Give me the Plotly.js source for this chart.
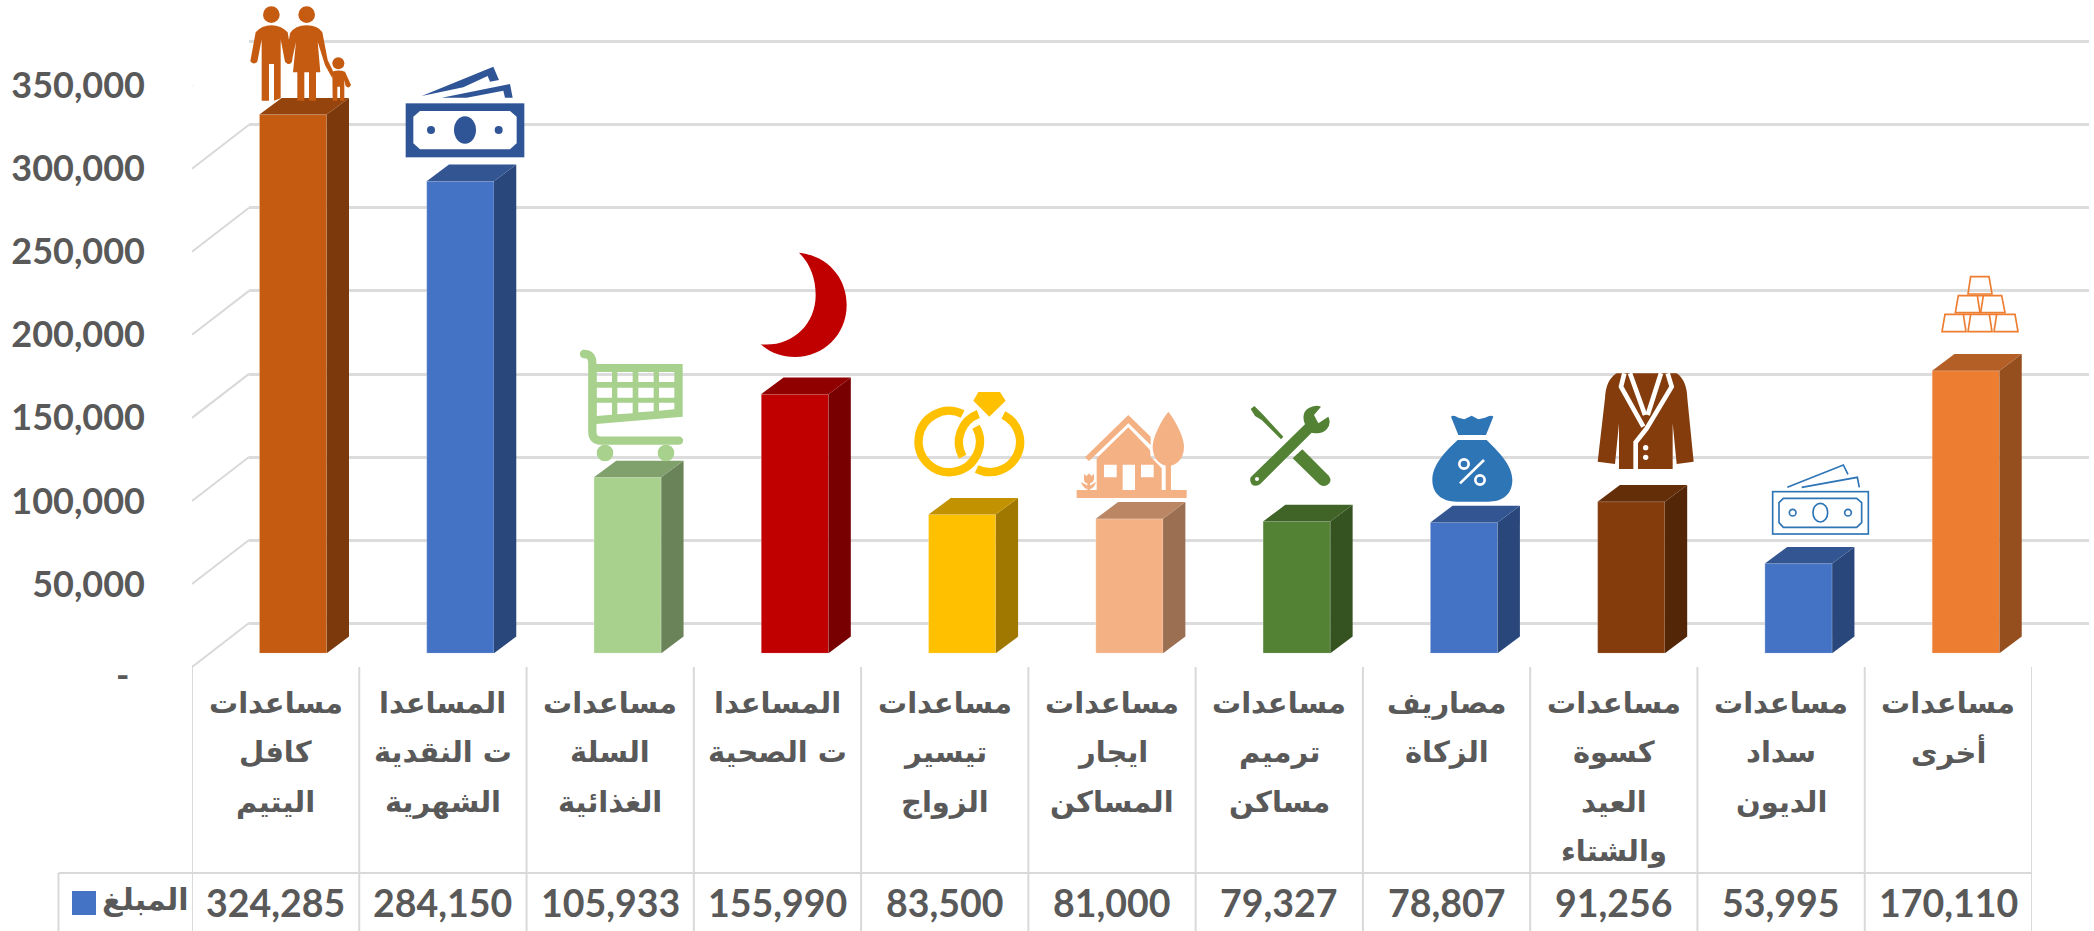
<!DOCTYPE html>
<html>
<head>
<meta charset="utf-8">
<script src="https://cdn.plot.ly/plotly-3.0.1.min.js"></script>
<style>html,body{margin:0;padding:0;background:#fff}</style>
</head>
<body>
<div id="chart" style="width:2094px;height:931px"></div>
<script>
const categories = [
  'مساعدات<br>كافل<br>اليتيم',
  'المساعدا<br>ت النقدية<br>الشهرية',
  'مساعدات<br>السلة<br>الغذائية',
  'المساعدا<br>ت الصحية',
  'مساعدات<br>تيسير<br>الزواج',
  'مساعدات<br>ايجار<br>المساكن',
  'مساعدات<br>ترميم<br>مساكن',
  'مصاريف<br>الزكاة',
  'مساعدات<br>كسوة<br>العيد<br>والشتاء',
  'مساعدات<br>سداد<br>الديون',
  'مساعدات<br>أخرى'
];
const values = [324285, 284150, 105933, 155990, 83500, 81000, 79327, 78807, 91256, 53995, 170110];
const seriesName = 'المبلغ';
const yTicks = [0, 50000, 100000, 150000, 200000, 250000, 300000, 350000];
const yTickText = ['-', '50,000', '100,000', '150,000', '200,000', '250,000', '300,000', '350,000'];
const frontColors = ['#C55A11','#4472C4','#A9D18E','#C00000','#FFC000','#F4B183','#548235','#4472C4','#843C0C','#4472C4','#ED7D31'];
const topColors   = ['#96440D','#335693','#80A06C','#910000','#C29200','#BA8664','#406328','#335693','#642E09','#335693','#B45F25'];
const sideColors  = ['#7C390B','#2A477B','#6A8359','#790000','#A07800','#9A6F52','#355221','#2A477B','#532608','#2A477B','#954F1F'];

const W = 2094, H = 931;
const fx = p => p / W, fy = p => 1 - p / H;
const GRID = '#D9D9D9', TXT = '#595959';
const ARABIC = 'DejaVu Sans', LATIN = 'Lato';

// bar geometry in axis units
const barLeft = 0.403, barW = 0.4023, depthX = 0.1333, depthV = 10054;
// wall offset in axis units of the front plane
const wallX = 0.3408, wallV = 26474;
// the wall axis runs a little past its ends so that the end gridlines stay drawn
const wallPad = 2000, wallPadPx = wallPad / 50000 * 83.2;

const band = categories.map((_, i) => i);
const traces = [];

// keeps the wall subplot alive; runs along the floor at the back
traces.push({type:'scatter', mode:'lines', x:[0,11], y:[0,0], xaxis:'x', yaxis:'y',
  line:{color:'rgba(0,0,0,0)',width:0}, hoverinfo:'skip', showlegend:false});

// diagonals from front plane to wall
yTicks.forEach(v => traces.push({type:'scatter', mode:'lines', xaxis:'x2', yaxis:'y2',
  x:[0, wallX], y:[v, v + wallV], cliponaxis:false,
  line:{color:GRID,width:2}, hoverinfo:'skip', showlegend:false}));

// front faces
traces.push({type:'bar', xaxis:'x2', yaxis:'y3', x:band.map(i => i + barLeft + barW/2), y:values,
  width:barW, marker:{color:frontColors, line:{width:1, color:'rgba(255,255,255,0.3)'}}, hoverinfo:'y', showlegend:false});

// side and top faces
values.forEach((v,i) => {
  const l = i + barLeft, r = l + barW;
  traces.push({type:'scatter', mode:'lines', xaxis:'x2', yaxis:'y3',
    x:[r, r+depthX, r+depthX, r, r], y:[0, depthV, v+depthV, v, 0], fill:'toself',
    fillcolor:sideColors[i], line:{width:0}, hoverinfo:'skip', showlegend:false});
  traces.push({type:'scatter', mode:'lines', xaxis:'x2', yaxis:'y3',
    x:[l, l+depthX, r+depthX, r, l], y:[v, v+depthV, v+depthV, v, v], fill:'toself',
    fillcolor:topColors[i], line:{width:0}, hoverinfo:'skip', showlegend:false});
});

// table rules
const vline = (x, y0, y1) => ({type:'line', xref:'x2', yref:'paper', x0:x, x1:x, y0:fy(y0), y1:fy(y1), line:{color:GRID,width:2}, layer:'below'});
const shapes = [];
for (let i = 0; i <= categories.length; i++) shapes.push(vline(i, 667, 931));
shapes.push({type:'line', xref:'paper', yref:'paper', x0:fx(58.5), x1:fx(58.5), y0:fy(873), y1:fy(931), line:{color:GRID,width:2}, layer:'below'});
shapes.push({type:'line', xref:'paper', yref:'paper', x0:fx(58.5), x1:fx(2032), y0:fy(873), y1:fy(873), line:{color:GRID,width:2}, layer:'below'});
shapes.push({type:'rect', xref:'paper', yref:'paper', x0:fx(72), x1:fx(96), y0:fy(891), y1:fy(915), fillcolor:'#4472C4', line:{width:0}});

// table values
const annotations = values.map((v,i) => ({xref:'x2', yref:'paper', x:i+0.5, y:fy(902), showarrow:false,
  xanchor:'center', yanchor:'middle', text:v.toLocaleString('en-US'),
  font:{family:LATIN, size:37.5, color:TXT, weight:700}}));
annotations.push({xref:'paper', yref:'paper', x:fx(145), y:fy(899), showarrow:false, xanchor:'center', yanchor:'middle',
  text:seriesName, font:{family:ARABIC, size:30, color:TXT, weight:700}});
// category labels, one annotation per line so the leading can follow the reference
categories.forEach((c,i) => c.split('<br>').forEach((line,k) => annotations.push({
  xref:'x2', yref:'paper', x:i+0.5, y:fy(703 + 49.3*k), showarrow:false, xanchor:'center', yanchor:'middle',
  text:line, font:{family:ARABIC, size:29, color:TXT, weight:700}})));
// the zero label sits low and to the left of the other tick labels
annotations.push({xref:'paper', yref:'paper', x:fx(122), y:fy(674), showarrow:false, xanchor:'center', yanchor:'middle',
  text:yTickText[0], font:{family:LATIN, size:36, color:TXT, weight:700}});

// icons, drawn at three times their size in the crop box they sit in
function icon(x0, y0, w, h, inner) {
  const svg = `<svg xmlns="http://www.w3.org/2000/svg" width="${w*3}" height="${h*3}" viewBox="0 0 ${w*3} ${h*3}">${inner}</svg>`;
  return {source:'data:image/svg+xml;charset=utf-8,' + encodeURIComponent(svg), xref:'paper', yref:'paper',
    x:fx(x0), y:fy(y0), sizex:w/W, sizey:h/H, xanchor:'left', yanchor:'top', sizing:'stretch', layer:'above'};
}
const family = `<g fill="#C55A11"><circle cx="79" cy="44" r="25"/><circle cx="185" cy="44" r="25"/><circle cx="280" cy="190" r="18"/>
<path d="M32,97 Q50,76 79,76 Q108,76 128,97 L142,180 Q140,194 128,192 L120,185 L107,118 L107,295 L87,302 L87,192 L72,192 L72,302 L50,302 L50,118 L37,185 Q25,196 16,184 Z"/>
<path d="M135,100 Q150,76 185,76 Q218,76 232,97 L248,180 L265,215 L262,235 L240,195 L218,125 L226,217 L213,217 L213,302 L192,302 L192,217 L178,217 L178,302 L157,302 L157,217 L144,217 L153,125 L140,185 Q130,195 122,185 Z"/>
<path d="M262,215 Q280,208 300,215 L318,255 Q312,268 302,258 L298,240 L298,302 L285,302 L285,260 L277,260 L277,302 L263,302 Z"/></g>`;
const money = `<g fill="#2F5597"><rect x="482" y="310" width="356" height="162"/>
<path fill="#fff" d="M525,333 L795,333 L815,350 L815,430 L795,448 L525,448 L505,430 L505,350 Z"/>
<ellipse cx="660" cy="390" rx="33" ry="41"/><circle cx="558" cy="390" r="12"/><circle cx="761" cy="390" r="12"/>
<path d="M530,288 L745,200 L762,240 L735,245 L728,228 L655,262 Z"/><path d="M590,293 L795,252 L803,293 L780,293 L775,272 L665,293 Z"/></g>`;
const cart = `<g fill="#A9D18E"><path fill="none" stroke="#A9D18E" stroke-width="25" stroke-linecap="round" d="M27,312 Q52,312 52,340 L52,545 Q52,572 80,572 L312,572"/>
<path fill-rule="evenodd" d="M52,342 L323,342 L323,500 L64,522 L52,522 Z
M65,366 H111 V396 H65 Z M127,366 H173 V396 H127 Z M190,366 H236 V396 H190 Z M252,366 H298 V396 H252 Z
M65,413 H111 V443 H65 Z M127,413 H173 V443 H127 Z M190,413 H236 V443 H190 Z M252,413 H298 V443 H252 Z
M65,458 H111 V494 L65,498 Z M127,458 H173 V490 L127,493 Z M190,458 H236 V484 L190,487 Z M252,458 H298 V478 L252,482 Z"/>
<circle cx="90" cy="609" r="25"/><circle cx="273" cy="609" r="25"/></g>`;
const moon = `<path fill="#C00000" d="M672,8 C760,18 815,85 815,165 C815,255 745,321 660,321 C620,321 585,307 557,283 C650,292 722,225 722,135 C722,85 705,40 672,8 Z"/>`;
const rings = `<g fill="none" stroke="#FFC000" stroke-width="25"><path d="M158,72 A92,92 0 1 0 198,110"/><path d="M280,75 A90,90 0 0 1 200,237"/><path d="M205,72 A90,90 0 0 0 158,200"/></g>
<path fill="#FFC000" d="M205,6 L270,6 L287,32 L238,80 L190,32 Z"/>`;
const house = `<g fill="#F4B183"><rect x="500" y="300" width="330" height="24"/>
<path fill-rule="evenodd" d="M560,300 L560,205 L655,112 L720,180 L722,200 L755,235 L755,300 Z M582,224 H620 V262 H582 Z M693,224 H731 V262 H693 Z M638,224 H675 V300 H638 Z"/>
<path d="M525,202 L655,75 L722,140 L722,165 L655,100 L537,213 Z"/>
<path d="M775,65 C795,90 822,140 822,170 C822,205 800,227 775,227 C750,227 728,205 728,170 C728,140 755,90 775,65 Z"/><rect x="767" y="225" width="16" height="76"/>
<path d="M522,252 L530,258 L537,250 L544,258 L552,252 L552,268 Q548,280 540,280 L540,300 L532,300 L532,280 Q522,280 522,268 Z"/>
<path d="M513,276 L535,288 L530,298 Q518,292 513,276 Z"/><path d="M558,276 L538,288 L542,298 Q554,292 558,276 Z"/></g>`;
const tools = `<g fill="#548235"><path fill-rule="evenodd" d="M1022,262 L1185,103 Q1172,70 1195,55 Q1215,43 1233,50 L1212,75 L1225,100 L1255,80 Q1265,100 1250,118 Q1235,135 1205,128 L1050,283 Q1035,292 1025,283 Q1018,272 1022,262 Z M1047,267 A6,6 0 1 0 1035,267 A6,6 0 1 0 1047,267 Z"/>
<path d="M1022,57 L1033,48 L1058,73 L1120,140 L1113,148 L1055,90 L1035,78 Z"/>
<path d="M1148,205 L1177,178 L1257,258 Q1268,275 1252,285 Q1238,292 1227,282 Z"/></g>`;
const bag = `<g fill="#2E75B6"><path d="M78,155 Q85,148 100,158 L118,163 L140,152 L160,163 L180,158 Q200,148 205,155 L183,210 L100,210 Z"/>
<path d="M98,225 L185,225 C220,260 262,300 262,345 C262,390 230,410 190,410 L95,410 C50,410 22,385 22,345 C22,300 60,260 98,225 Z"/></g>
<g fill="none" stroke="#fff" stroke-width="8"><circle cx="117" cy="297" r="14"/><circle cx="165" cy="345" r="14"/><path d="M105,355 L177,285"/></g>`;
const jacket = `<path fill="#843C0C" d="M575,25 L755,25 Q785,45 787,100 L806,290 L755,297 L743,175 L743,312 L582,312 L582,175 L570,297 L518,290 L540,100 Q542,45 575,25 Z"/>
<g fill="none" stroke="#fff" stroke-width="14"><path d="M598,25 L588,65 L655,185"/><path d="M615,25 L660,150"/><path d="M728,25 L740,65 L665,190 L632,232 L632,312"/><path d="M708,25 L668,150"/></g>
<circle cx="662" cy="248" r="8" fill="#fff"/><circle cx="662" cy="277" r="8" fill="#fff"/>`;
const bills = `<g fill="none" stroke="#2E75B6" stroke-width="5"><rect x="38" y="665" width="287" height="127" fill="#fff"/>
<path d="M70,685 L290,685 L305,698 L305,758 L290,772 L70,772 L57,758 L57,698 Z"/><ellipse cx="181" cy="728" rx="22" ry="28"/><circle cx="98" cy="728" r="10"/><circle cx="264" cy="728" r="10"/>
<path d="M82,652 L250,585 L264,613"/><path d="M125,652 L292,622 L298,652"/></g>`;
const gold = `<g fill="none" stroke="#ED7D31" stroke-width="5"><path d="M632,20 H687 L696,72 H624 Z"/>
<path d="M595,77 H652 L660,128 H586 Z"/><path d="M670,77 H725 L735,128 H662 Z"/><path d="M652,77 H670"/>
<path d="M555,133 H610 L618,185 H546 Z"/><path d="M632,133 H688 L696,185 H624 Z"/><path d="M710,133 H765 L774,185 H702 Z"/><path d="M610,133 H632 M688,133 H710"/></g>`;
const images = [
  icon(245, 0, 290, 165, family + money),
  icon(575, 250, 290, 215, cart + moon),
  icon(910, 390, 450, 115, rings + house + tools),
  icon(1425, 365, 280, 155, bag + jacket),
  icon(1760, 270, 334, 270, bills + gold)
];

const hidden = {showgrid:false, zeroline:false, showline:false, showticklabels:false, ticks:''};
const layout = {
  width:W, height:H, autosize:false, margin:{l:0,r:0,t:0,b:0,pad:0}, showlegend:false,
  paper_bgcolor:'#fff', plot_bgcolor:'rgba(0,0,0,0)', bargap:0,
  xaxis:Object.assign({}, hidden, {domain:[fx(249), fx(2089)], range:[0,11], anchor:'y'}),
  yaxis:{domain:[fy(623.6 + wallPadPx), fy(41.3 - wallPadPx)], range:[-wallPad,350000 + wallPad], anchor:'x', tickmode:'array', tickvals:yTicks, showgrid:true, gridcolor:'#DCDCDC', gridwidth:3,
    zeroline:false, showline:false, showticklabels:false, ticks:''},
  xaxis2:Object.assign({}, hidden, {domain:[fx(192), fx(2032)], range:[0,11], anchor:'y2'}),
  yaxis2:{domain:[fy(667), fy(85.7)], range:[0,350000], anchor:'x2', tickmode:'array', tickvals:yTicks.slice(1), ticktext:yTickText.slice(1),
    showgrid:false, zeroline:false, showline:false, ticks:'', ticklabelstandoff:46,
    tickfont:{family:LATIN, size:36, color:TXT, weight:700}},
  yaxis3:Object.assign({}, hidden, {domain:[fy(653.3), fy(71.9)], range:[0,350000], anchor:'x2'}),
  shapes, annotations, images
};
Plotly.newPlot('chart', traces, layout, {displayModeBar:false, staticPlot:true});
</script>
</body>
</html>
